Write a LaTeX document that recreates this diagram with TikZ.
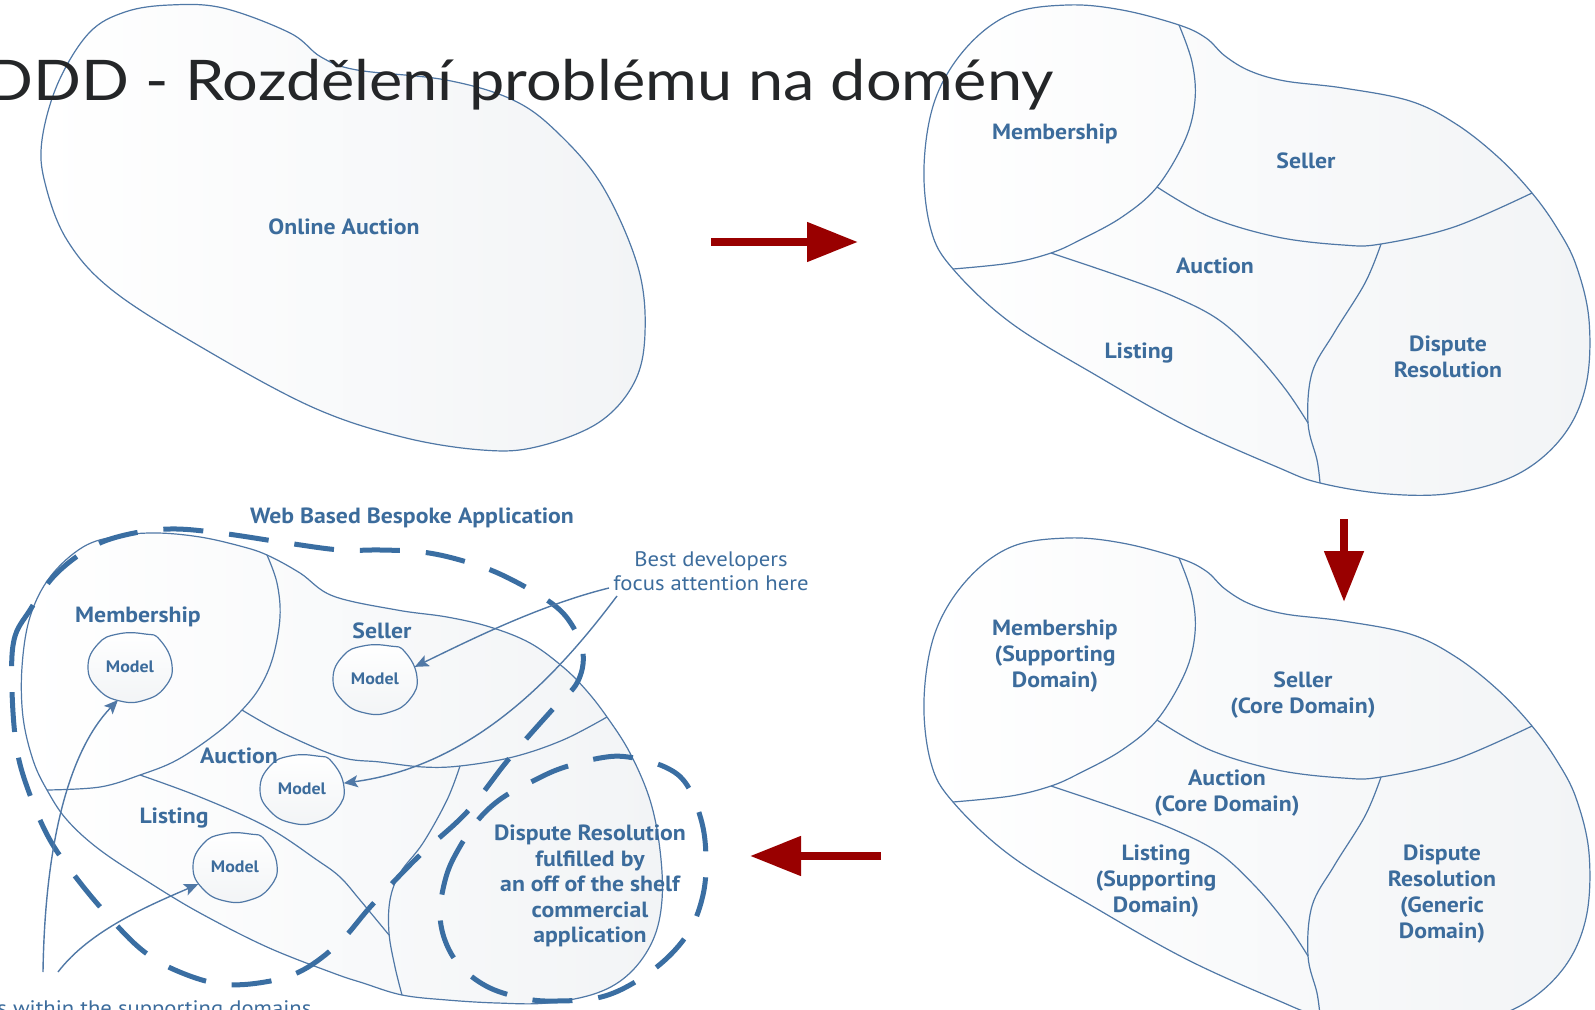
\documentclass[tikz,border=0pt]{standalone}
\usepackage{fontspec}
\setmainfont{PT Sans}[FakeStretch=1.08]
\newfontfamily\titlefont{Lato}[FakeStretch=1.125]
\usetikzlibrary{arrows.meta,shapes.geometric}

\definecolor{ink}{RGB}{60,108,156}
\definecolor{edge}{RGB}{80,120,166}
\definecolor{dashblue}{RGB}{58,110,162}
\definecolor{darkred}{RGB}{153,0,0}
\definecolor{paleshade}{RGB}{242,244,246}
\definecolor{titleink}{RGB}{36,38,40}

\tikzset{
  edgeline/.style={draw=edge, line width=0.6pt},
  blobshade/.style={left color=white, right color=paleshade},
  area/.style={text=ink, font=\bfseries\fontsize{11}{13}\selectfont, align=center, inner sep=0pt},
  smallarea/.style={text=ink, font=\bfseries\fontsize{11}{12.8}\selectfont, align=center, inner sep=0pt},
  notetext/.style={text=ink, font=\fontsize{10.5}{12}\selectfont, align=center, inner sep=0pt},
  modelnode/.style={ellipse, minimum width=42, minimum height=34, inner sep=0pt,
    text=ink, font=\bfseries\fontsize{8.3}{9}\selectfont},
  bigarrow/.style={draw=darkred, line width=4pt, -{Triangle[length=25.5pt,width=19pt]}},
  notearrow/.style={draw=edge, line width=0.7pt, -{Stealth[length=7pt,width=6pt,inset=1.5pt]}},
  bigdash/.style={draw=dashblue, line width=2.5pt, dash pattern=on 20pt off 13pt},
}

% outline and internal borders of the five-part domain map
\newcommand\domainmap{%
  \shade[blobshade, edgeline] plot[smooth cycle, tension=0.6] coordinates {
    (1068,5) (1122,10) (1179,25) (1206,38) (1225,56) (1250,71) (1285,81)
    (1343,88) (1410,101) (1456,124) (1498,157) (1532,193) (1557,228)
    (1576,265) (1589,320) (1586,385) (1563,436) (1518,474) (1454,493)
    (1388,494) (1320,483) (1277,467) (1188,427) (1099,377) (1011,323)
    (953,269) (931,230) (924,167) (935,100) (966,48) (1011,14)};
  \draw[edgeline] plot[smooth, tension=0.6] coordinates {
    (1179,25) (1192,62) (1195,100) (1185,140) (1157,187) (1122,217)
    (1080,240) (1051,253) (1011,263) (953,269)};
  \draw[edgeline] plot[smooth, tension=0.6] coordinates {
    (1157,187) (1210,217) (1277,237) (1343,245) (1381,244) (1454,227) (1532,193)};
  \draw[edgeline] plot[smooth, tension=0.6] coordinates {
    (1381,244) (1365,283) (1334,333) (1312,373) (1308,423) (1317,460) (1320,483)};
  \draw[edgeline] plot[smooth, tension=0.6] coordinates {
    (1051,253) (1122,277) (1175,297) (1219,320) (1255,353) (1286,390) (1308,423)};
}

% hand-drawn looking bubble around a model
\newcommand\modelbubble[1]{%
  \begin{scope}[shift={(#1)}]
    \shade[top color=white, bottom color=paleshade, edgeline]
      plot[smooth cycle, tension=0.8] coordinates {
        (-42,0) (-32,-23) (-12,-33) (15,-33) (30,-27) (42,-2) (35,20)
        (15,33) (-10,34) (-32,22)};
  \end{scope}}

\begin{document}
\begin{tikzpicture}[x=0.5pt, y=-0.5pt]
\useasboundingbox (0,0) rectangle (1595,1010);
\clip (0,0) rectangle (1595,1010);

% ---------- undivided problem ----------
\shade[blobshade, edgeline] plot[smooth cycle, tension=0.6] coordinates {
  (170,5) (223,8) (290,33) (321,57) (357,70) (446,80) (513,100) (558,133)
  (603,187) (638,267) (645,333) (634,383) (598,423) (536,447) (482,450)
  (402,437) (312,407) (201,347) (112,290) (67,240) (45,183) (42,140)
  (58,83) (89,33) (125,12)};
\node[area] (online) at (344,227) {Online Auction};

% ---------- split into domains ----------
\domainmap
\node[area] (mem1) at (1055,134) {Membership};
\node[area] (sel1) at (1306,161) {Seller};
\node[area] (auc1) at (1215,266) {Auction};
\node[area] (lst1) at (1139,353) {Listing};
\node[area] (dis1) at (1448,357) {Dispute\\Resolution};

% ---------- classified domains ----------
\begin{scope}[shift={(0,533)}]
  \domainmap
\end{scope}
\node[area] (mem2) at (1055,656) {Membership\\(Supporting\\Domain)};
\node[area] (sel2) at (1303,695) {Seller\\(Core Domain)};
\node[area] (auc2) at (1227,793) {Auction\\(Core Domain)};
\node[area] (lst2) at (1156,881) {Listing\\(Supporting\\Domain)};
\node[area] (dis2) at (1442,894) {Dispute\\Resolution\\(Generic\\Domain)};

% ---------- solution space ----------
\shade[blobshade, edgeline] plot[smooth cycle, tension=0.6] coordinates {
  (157,533) (200,537) (240,546) (267,555) (300,573) (333,596) (397,610)
  (447,617) (490,627) (530,643) (563,667) (586,690) (607,717) (630,753)
  (650,800) (660,850) (662,900) (653,940) (630,973) (597,993) (547,1003)
  (497,1003) (447,1000) (402,995) (363,983) (333,973) (267,947) (200,913)
  (150,883) (100,850) (67,820) (47,790) (33,760) (23,717) (22,667)
  (30,617) (50,577) (83,547) (118,536)};
\draw[edgeline] plot[smooth, tension=0.6] coordinates {
  (267,555) (277,583) (280,617) (273,657) (260,687) (242,710) (217,733)
  (177,760) (140,775) (100,787) (47,790)};
\draw[edgeline] plot[smooth, tension=0.6] coordinates {
  (242,710) (283,733) (340,757) (380,762) (423,767) (460,766) (513,757)
  (563,740) (607,717)};
\draw[edgeline] plot[smooth, tension=0.6] coordinates {
  (460,766) (447,800) (423,843) (400,873) (390,900) (389,933) (395,967) (402,995)};
\draw[edgeline] plot[smooth, tension=0.6] coordinates {
  (140,775) (200,797) (267,827) (317,860) (340,877) (360,900) (389,935)};

\modelbubble{130,667}
\modelbubble{375,679}
\modelbubble{302,789}
\modelbubble{235,867}
\node[modelnode] (mm) at (130,667) {Model};
\node[modelnode] (sm) at (375,679) {Model};
\node[modelnode] (am) at (302,789) {Model};
\node[modelnode] (lm) at (235,867) {Model};

\node[area] (mem3) at (138,617) {Membership};
\node[area] (sel3) at (382,631) {Seller};
\node[area] (auc3) at (239,756) {Auction};
\node[area] (lst3) at (174,818) {Listing};
\node[smallarea] (dis3) at (590,886)
  {Dispute Resolution\\fulfilled by\\an off of the shelf\\commercial\\application};

% bespoke application boundary
\draw[bigdash] plot[smooth cycle, tension=0.6] coordinates {
  (12,690) (14,640) (30,610) (55,575) (90,548) (125,535) (170,529)
  (220,533) (287,543) (340,550) (380,550) (422,552) (460,560) (500,574)
  (547,600) (570,622) (583,653) (577,683) (552,710) (508,760) (467,812)
  (418,857) (372,905) (340,942) (303,970) (265,982) (220,984) (175,970)
  (142,950) (110,918) (78,880) (50,840) (30,795) (17,750)};
% off the shelf boundary
\draw[bigdash] plot[smooth cycle, tension=0.6] coordinates {
  (440,913) (446,877) (458,850) (478,820) (502,798) (535,780) (562,768)
  (600,758) (628,757) (665,767) (687,785) (702,823) (706,860) (703,895)
  (690,930) (665,960) (630,985) (597,998) (557,1001) (527,999) (490,988)
  (462,968) (446,943)};

\node[area] (web) at (412,518) {Web Based Bespoke Application};
\node[notetext] (best) at (711,571) {Best developers\\focus attention here};
\node[notetext, anchor=base west] (rest) at (-3,1015) {s within the supporting domains};

% annotation pointers
\coordinate (b1) at (609,588);
\coordinate (b2) at (617,596);
\coordinate (r1) at (43,972);
\coordinate (r2) at (58,972);
\draw[notearrow] (b1) .. controls (540,605) and (470,640) .. (sm.17);
\draw[notearrow] (b2) .. controls (565,665) and (480,765) .. (am.8);
\draw[notearrow] (r1) .. controls (45,840) and (70,750) .. (mm.250);
\draw[notearrow] (r2) .. controls (90,930) and (150,905) .. (lm.205);

% process arrows
\coordinate (p1s) at (711,242);
\coordinate (p1e) at (858,242);
\coordinate (p2s) at (1344,519);
\coordinate (p2e) at (1344,602);
\coordinate (p3s) at (881,856);
\coordinate (p3e) at (750,856);
\draw[bigarrow] (p1s) -- (p1e);
\draw[bigarrow] (p2s) -- (p2e);
\draw[bigarrow] (p3s) -- (p3e);

% slide heading
\node[anchor=base east, inner sep=0pt, text=titleink,
  font=\titlefont\fontsize{28}{30}\selectfont] (title) at (1054,101)
  {DDD - Rozdělení problému na domény};
\end{tikzpicture}
\end{document}
